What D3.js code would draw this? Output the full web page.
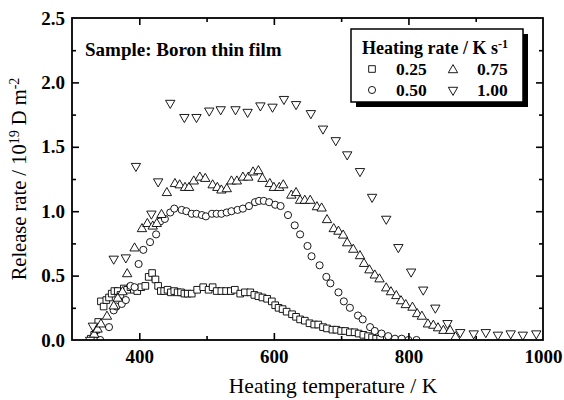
<!DOCTYPE html>
<html><head><meta charset="utf-8">
<script src="https://cdn.jsdelivr.net/npm/d3@7"></script>
<style>body{margin:0;background:#fff}svg{display:block}</style>
</head><body>
<svg id="chart" width="564" height="400"></svg>
<script>
// ---- data ----
const rateLabels = ["0.25", "0.50", "0.75", "1.00"];
const t025 = [328,333,336,339,343,347,351,355,359,363,368,372,377,382,387,392,397,403,409,414,419,424,428,432,437,442,447,452,457,462,467,472,478,486,495,503,509,515,522,529,536,542,550,557,565,571,577,583,590,597,602,607,613,619,627,633,639,646,653,660,666,673,679,687,693,700,706,713,720,726,733,740,746,752,758];
const v025 = [0.01,0.04,0.08,0.14,0.30,0.26,0.31,0.33,0.36,0.38,0.38,0.35,0.40,0.39,0.41,0.39,0.38,0.41,0.42,0.49,0.52,0.47,0.42,0.38,0.38,0.39,0.37,0.38,0.37,0.37,0.36,0.36,0.36,0.39,0.41,0.39,0.41,0.38,0.38,0.38,0.38,0.39,0.36,0.37,0.37,0.35,0.34,0.33,0.32,0.30,0.27,0.25,0.24,0.22,0.20,0.18,0.16,0.15,0.13,0.12,0.12,0.10,0.09,0.08,0.08,0.07,0.07,0.06,0.06,0.05,0.04,0.03,0.02,0.01,0.01];
const t050 = [333,342,355,362,366,374,380,387,393,399,406,416,425,431,438,446,452,463,470,478,485,493,499,508,515,522,530,537,546,554,563,572,578,585,593,602,610,621,631,639,650,656,668,678,684,696,704,713,725,732,743,750,760,770,780,790,800,812];
const v050 = [0.0,0.0,0.10,0.23,0.26,0.28,0.31,0.42,0.41,0.59,0.70,0.76,0.82,0.92,0.94,0.99,1.02,1.01,1.00,0.98,0.98,0.97,0.96,0.98,0.98,0.98,0.99,1.00,1.01,1.02,1.04,1.07,1.08,1.08,1.07,1.05,1.04,0.97,0.89,0.82,0.73,0.65,0.58,0.49,0.44,0.37,0.30,0.25,0.19,0.16,0.10,0.07,0.05,0.03,0.01,0.01,0.0,0.0];
const t075 = [333,338,343,352,362,368,375,382,393,404,412,420,426,433,441,453,460,468,474,481,490,498,509,516,522,530,537,545,554,562,569,577,583,594,600,608,614,626,633,639,646,654,664,671,679,689,696,703,709,718,728,734,742,750,757,767,774,782,789,796,806,813,820,829,837,844,852,862,870];
const v075 = [0.05,0.09,0.13,0.19,0.27,0.33,0.38,0.52,0.72,0.87,0.91,0.89,0.91,0.98,1.15,1.22,1.21,1.19,1.19,1.24,1.27,1.26,1.21,1.19,1.17,1.18,1.24,1.24,1.27,1.27,1.31,1.32,1.26,1.22,1.19,1.19,1.21,1.13,1.15,1.09,1.09,1.09,1.04,1.03,0.94,0.87,0.85,0.82,0.76,0.71,0.66,0.60,0.55,0.51,0.48,0.41,0.38,0.35,0.31,0.28,0.26,0.21,0.19,0.13,0.12,0.10,0.08,0.08,0.03];
const t100 = [327,331,362,380,395,418,428,446,467,485,504,521,543,561,580,598,615,633,655,673,692,709,728,746,767,785,804,822,840,858,877,897,915,933,952,970,990];
const v100 = [0.0,0.11,0.63,0.64,1.35,0.98,1.23,1.84,1.73,1.73,1.78,1.79,1.79,1.77,1.82,1.81,1.87,1.83,1.76,1.64,1.55,1.44,1.31,1.11,0.94,0.72,0.53,0.39,0.25,0.13,0.06,0.05,0.06,0.04,0.05,0.04,0.05];
const xTickLabels = [400, 600, 800, 1000];
const xMinorTicks = [500, 700, 900];
const yTickLabels = [0.0, 0.5, 1.0, 1.5, 2.0, 2.5];
const yMinorTicks = [0.25, 0.75, 1.25, 1.75, 2.25];

// ---- layout ----
const L = 72, R = 543, T = 18, B = 340;
const svg = d3.select("#chart");
const x = d3.scaleLinear().domain([300, 1000]).range([L, R]);
const y = d3.scaleLinear().domain([0, 2.5]).range([B, T]);
const serif = "'Liberation Serif','Times New Roman',serif";

// markers
const sym = {
  "0.25": d3.symbol().type(d3.symbolSquare).size(44),
  "0.50": d3.symbol().type(d3.symbolCircle).size(40),
  "0.75": d3.symbol().type(d3.symbolTriangle).size(38),
  "1.00": d3.symbol().type(d3.symbolTriangle).size(38)
};
const series = [
  {key: "0.25", t: t025, v: v025},
  {key: "0.50", t: t050, v: v050},
  {key: "0.75", t: t075, v: v075},
  {key: "1.00", t: t100, v: v100}
];
function marker(g, key, cx, cy) {
  g.append("path")
    .attr("d", sym[key]())
    .attr("transform", `translate(${cx},${cy})` + (key === "1.00" ? " rotate(180)" : "") + (key==="0.75" ? " translate(0,1)" : ""))
    .attr("fill", "#fff").attr("stroke", "#000").attr("stroke-width", 0.9);
}
const clipId = "plotclip";
svg.append("clipPath").attr("id", clipId).append("rect")
  .attr("x", L).attr("y", T - 10).attr("width", R - L + 10).attr("height", B - T + 10);
const pts = svg.append("g").attr("clip-path", `url(#${clipId})`);
series.forEach(s => {
  s.t.forEach((t, i) => marker(pts, s.key, x(t), y(s.v[i])));
});

// axes (ticks inward, mirrored)
const axStroke = 1.6;
function tickAxis(axisFn, scale, vals, size, transform) {
  const g = svg.append("g").attr("transform", transform)
    .call(axisFn(scale).tickValues(vals).tickSize(size).tickFormat(""));
  g.select(".domain").remove();
  g.selectAll("line").attr("stroke", "#000").attr("stroke-width", axStroke);
  return g;
}
const xMaj = [400, 600, 800];
tickAxis(d3.axisTop, x, xMaj, 7, `translate(0,${B})`);
tickAxis(d3.axisTop, x, xMinorTicks, 4, `translate(0,${B})`);
tickAxis(d3.axisBottom, x, xMaj, 7, `translate(0,${T})`);
tickAxis(d3.axisBottom, x, xMinorTicks, 4, `translate(0,${T})`);
tickAxis(d3.axisRight, y, yTickLabels.slice(1, -1), 7, `translate(${L},0)`);
tickAxis(d3.axisRight, y, yMinorTicks, 4, `translate(${L},0)`);
tickAxis(d3.axisLeft, y, yTickLabels.slice(1, -1), 7, `translate(${R},0)`);
tickAxis(d3.axisLeft, y, yMinorTicks, 4, `translate(${R},0)`);

// tick labels via axes
const xLab = svg.append("g").attr("transform", `translate(0,${B})`)
  .call(d3.axisBottom(x).tickValues(xTickLabels).tickSize(0).tickPadding(10).tickFormat(d3.format("d")));
xLab.select(".domain").remove();
xLab.selectAll("text").attr("font-family", serif).attr("font-weight", "bold").attr("font-size", 19).attr("fill", "#000");
const yLab = svg.append("g").attr("transform", `translate(${L},0)`)
  .call(d3.axisLeft(y).tickValues(yTickLabels).tickSize(0).tickPadding(7).tickFormat(d3.format(".1f")));
yLab.select(".domain").remove();
yLab.selectAll("text").attr("font-family", serif).attr("font-weight", "bold").attr("font-size", 19).attr("fill", "#000");

// frame
svg.append("rect").attr("x", L).attr("y", T).attr("width", R - L).attr("height", B - T)
  .attr("fill", "none").attr("stroke", "#000").attr("stroke-width", 1.8);

// axis titles
svg.append("text").attr("x", 333).attr("y", 393).attr("text-anchor", "middle")
  .attr("font-family", serif).attr("font-size", 21.5).text("Heating temperature / K");
const yt = svg.append("text").attr("transform", `translate(26,${(T + B) / 2}) rotate(-90)`)
  .attr("text-anchor", "middle").attr("font-family", serif).attr("font-size", 20.5);
yt.append("tspan").text("Release rate / 10");
yt.append("tspan").attr("dy", -7).attr("font-size", 14).text("19");
yt.append("tspan").attr("dy", 7).text(" D m");
yt.append("tspan").attr("dy", -7).attr("font-size", 14).text("-2");

// sample note
svg.append("text").attr("x", 85).attr("y", 56).attr("font-family", serif)
  .attr("font-weight", "bold").attr("font-size", 19).text("Sample: Boron thin film");

// legend
const lx = 351, ly = 29, lw = 172, lh = 73;
svg.append("rect").attr("x", lx + 5).attr("y", ly + 5).attr("width", lw).attr("height", lh).attr("fill", "#000");
svg.append("rect").attr("x", lx).attr("y", ly).attr("width", lw).attr("height", lh)
  .attr("fill", "#fff").attr("stroke", "#000").attr("stroke-width", 1.5);
const lt = svg.append("text").attr("x", lx + 11).attr("y", ly + 25).attr("font-family", serif)
  .attr("font-weight", "bold").attr("font-size", 18);
lt.append("tspan").text("Heating rate / K s");
lt.append("tspan").attr("dy", -6).attr("font-size", 12).text("-1");
const legPos = [[0, 0], [0, 1], [1, 0], [1, 1]];
rateLabels.forEach((k, i) => {
  const [c, r] = legPos[i];
  const mx = lx + 21 + c * 81, my = ly + 40 + r * 21;
  marker(svg, k, mx, my);
  svg.append("text").attr("x", mx + 24).attr("y", my + 6).attr("font-family", serif)
    .attr("font-weight", "bold").attr("font-size", 17.5).text(k);
});
</script>
</body></html>
